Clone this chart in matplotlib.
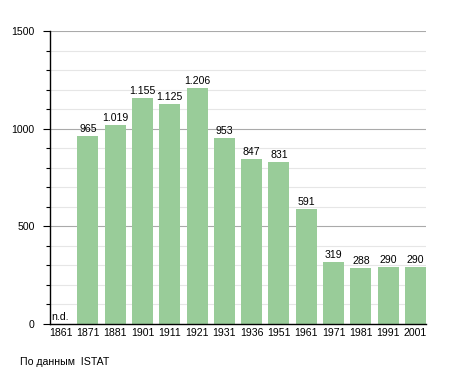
import numpy as np
import matplotlib.pyplot as plt
from matplotlib.ticker import MultipleLocator

# data
years = ["1861", "1871", "1881", "1901", "1911", "1921", "1931",
         "1936", "1951", "1961", "1971", "1981", "1991", "2001"]
population = [None, 965, 1019, 1155, 1125, 1206, 953,
              847, 831, 591, 319, 288, 290, 290]
labels = ["n.d.", "965", "1.019", "1.155", "1.125", "1.206", "953",
          "847", "831", "591", "319", "288", "290", "290"]

plt.rcParams['font.family'] = ['Liberation Sans', 'DejaVu Sans']
fs = 7.6

fig = plt.figure(figsize=(4.55, 3.73), dpi=100)
ax = fig.add_axes([50/455, 49/373, 376/455, 293/373])

w = 0.77
x = np.arange(len(years))
vals = [v if v is not None else 0 for v in population]
ax.bar(x, vals, width=w, align='edge', color='#99cc99', zorder=3)

for i, v in enumerate(population):
    if v is None:
        ax.text(i + 0.05, 8, labels[i], fontsize=fs, ha='left', va='bottom', zorder=4)
    else:
        ax.text(i + w/2, v + 10, labels[i], fontsize=fs, ha='center', va='bottom', zorder=4)

ax.set_xlim(0, len(years) - 1 + w)
ax.set_ylim(0, 1500)
ax.set_xticks(x + w/2)
ax.set_xticklabels(years, fontsize=fs)
ax.tick_params(axis='x', length=0, pad=3)

ax.yaxis.set_major_locator(MultipleLocator(500))
ax.yaxis.set_minor_locator(MultipleLocator(100))
ax.tick_params(axis='y', which='major', length=5, width=0.8, labelsize=fs, pad=6)
ax.tick_params(axis='y', which='minor', length=3, width=0.8)
ax.grid(axis='y', which='minor', color='#e6e6e6', linewidth=0.8, zorder=0)
ax.grid(axis='y', which='major', color='#aaaaaa', linewidth=0.8, zorder=1)

for s in ['top', 'right']:
    ax.spines[s].set_visible(False)
ax.spines['left'].set_linewidth(1)
ax.spines['bottom'].set_linewidth(1)
ax.spines['left'].set_zorder(5)
ax.spines['bottom'].set_zorder(5)

fig.text(20/455, 1 - 362/373, "По данным  ISTAT", fontsize=fs, ha='left', va='center')

fig.savefig("out.png", dpi=100)
